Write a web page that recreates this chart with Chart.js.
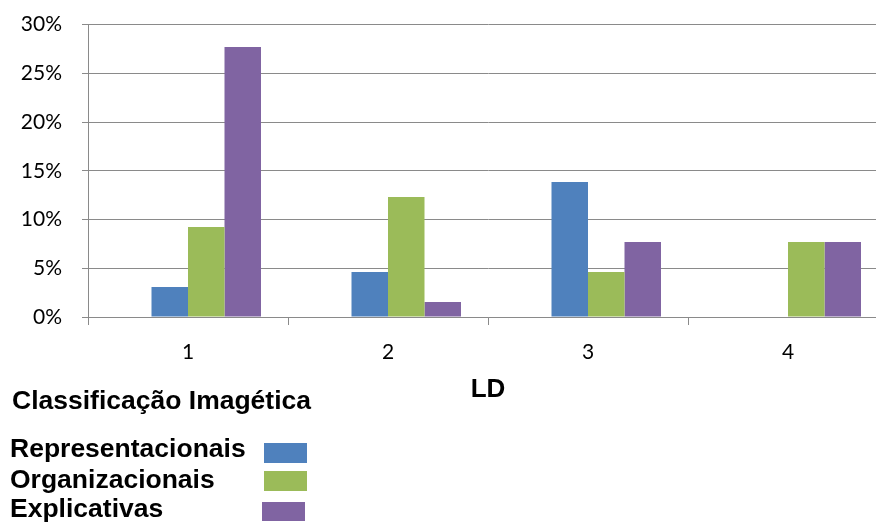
<!DOCTYPE html>
<html>
<head>
<meta charset="utf-8">
<script src="https://cdn.jsdelivr.net/npm/chart.js"></script>
<style>
  html, body { margin: 0; padding: 0; background: #fff; overflow: hidden; }
  #wrap { position: relative; width: 900px; height: 523px; overflow: hidden; }
  #chartCanvas { position: absolute; left: 0; top: -8px; }
  .legend-title, .legend-item {
    position: absolute;
    font-family: "Liberation Sans", Arial, sans-serif;
    font-weight: bold;
    font-size: 26.5px;
    line-height: 30px;
    color: #000;
    white-space: nowrap;
  }
  .swatch { position: absolute; width: 43px; height: 20px; }
</style>
</head>
<body>
<div id="wrap">
  <canvas id="chartCanvas" width="900" height="531"></canvas>
  <div class="legend-title" style="left:12px; top:385px;">Classificação Imagética</div>
  <div class="legend-item" style="left:10px; top:433px;">Representacionais</div>
  <div class="legend-item" style="left:10px; top:464px;">Organizacionais</div>
  <div class="legend-item" style="left:10px; top:493px;">Explicativas</div>
  <div class="swatch" style="left:264px; top:443px; background:#4F81BD;"></div>
  <div class="swatch" style="left:264px; top:471px; background:#9BBB59;"></div>
  <div class="swatch" style="left:262px; top:502px; height:19px; background:#8064A2;"></div>
</div>
<script>
  // LD groups on the x axis
  const categories = ['1', '2', '3', '4'];

  // Percentages per image classification
  const representacionais = [3.08, 4.62, 13.85, 0];
  const organizacionais = [9.23, 12.31, 4.62, 7.69];
  const explicativas = [27.69, 1.54, 7.69, 7.69];
  // the sheet keeps an empty first series, which leaves its slot blank in each group
  const blankSeries = [null, null, null, null];

  const yTicks = [0, 5, 10, 15, 20, 25, 30];

  const gray = '#8a8a8a';

  const ctx = document.getElementById('chartCanvas').getContext('2d');
  new Chart(ctx, {
    type: 'bar',
    data: {
      labels: categories,
      datasets: [
        { label: '', data: blankSeries, backgroundColor: 'rgba(0,0,0,0)' },
        { label: 'Representacionais', data: representacionais, backgroundColor: '#4F81BD' },
        { label: 'Organizacionais', data: organizacionais, backgroundColor: '#9BBB59' },
        { label: 'Explicativas', data: explicativas, backgroundColor: '#8064A2' }
      ]
    },
    options: {
      responsive: false,
      animation: false,
      events: [],
      datasets: {
        bar: {
          categoryPercentage: 0.73,
          barPercentage: 1.0,
          borderWidth: 0
        }
      },
      plugins: {
        legend: { display: false },
        tooltip: { enabled: false }
      },
      layout: {
        padding: { top: 15, right: 12, bottom: 0, left: 0 }
      },
      scales: {
        x: {
          grid: {
            display: true,
            drawOnChartArea: false,
            drawTicks: true,
            tickLength: 8,
            color: gray,
            lineWidth: 1
          },
          border: { display: true, color: gray, width: 1 },
          ticks: {
            padding: 15,
            color: '#000',
            font: { family: 'Lato', size: 21 }
          },
          title: {
            display: true,
            text: 'LD',
            color: '#000',
            font: { family: '"Liberation Sans", Arial, sans-serif', size: 26, weight: 'bold' },
            padding: { top: 0, bottom: 118 }
          },
          afterFit: function (scale) {
            scale.height = 206;
          }
        },
        y: {
          min: yTicks[0],
          max: yTicks[yTicks.length - 1],
          afterBuildTicks: function (scale) {
            scale.ticks = yTicks.map(v => ({ value: v }));
          },
          grid: {
            color: gray,
            lineWidth: 1,
            drawTicks: true,
            tickLength: 6
          },
          border: { display: true, color: gray, width: 1 },
          ticks: {
            padding: 20,
            color: '#000',
            font: { family: 'Lato', size: 21 },
            callback: function (value) {
              return value + '%';
            }
          },
          afterFit: function (scale) {
            scale.width = 88;
          }
        }
      }
    }
  });
</script>
</body>
</html>
